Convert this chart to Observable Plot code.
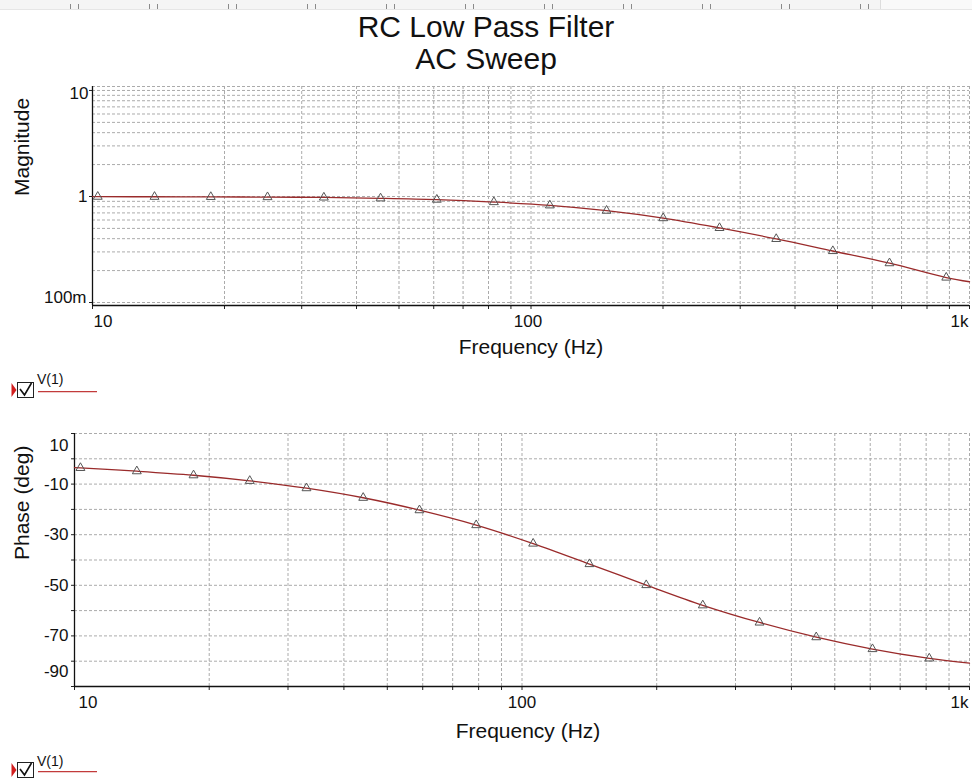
<!DOCTYPE html>
<html><head><meta charset="utf-8">
<script src="https://cdn.jsdelivr.net/npm/d3@7"></script>
<script src="https://cdn.jsdelivr.net/npm/@observablehq/plot@0.6"></script>
<style>
body{margin:0;background:#fff;font-family:"Liberation Sans",Arial,sans-serif;}
#root{position:relative;width:972px;height:780px;overflow:hidden;background:#fff;}
#ruler{position:absolute;left:0;top:0;width:972px;height:9px;background-color:#f5f5f5;border-bottom:1px solid #e6e6e6;}
#ruler .tk{position:absolute;top:4px;width:1px;height:5px;background:#8a8a8a;}
#rulerbox{position:absolute;left:880px;top:0;width:92px;height:9px;border-left:1px solid #ddd;background:#f9f9f9;}
.title{position:absolute;left:0;width:972px;text-align:center;font-size:30px;color:#111;line-height:1;}
#p1{position:absolute;left:0;top:70px;}
#p2{position:absolute;left:0;top:416px;}
.legend{position:absolute;left:0;width:110px;height:30px;}
.legend .lab{position:absolute;left:37px;font-size:14px;color:#111;line-height:1;}
</style></head><body><div id="root">
<div id="ruler"></div>
<div id="rulerbox"></div>
<div class="title" style="top:12px">RC Low Pass Filter</div>
<div class="title" style="top:44px">AC Sweep</div>
<div id="p1"></div>
<div id="p2"></div>
<div class="legend" style="top:370px">
 <svg width="110" height="30" style="position:absolute;left:0;top:0">
  <polygon points="11.5,13 16.5,20 11.5,27" fill="#d21f1f"/>
  <rect x="17.5" y="12.5" width="16" height="15" fill="#fff" stroke="#222" stroke-width="1"/>
  <polyline points="20,19 24.5,25 31.5,13" fill="none" stroke="#111" stroke-width="1.6"/>
  <line x1="38" y1="21.7" x2="97" y2="21.7" stroke="#c23b3b" stroke-width="1.3"/>
 </svg>
 <div class="lab" style="top:2px">V(1)</div>
</div>
<div class="legend" style="top:750px">
 <svg width="110" height="30" style="position:absolute;left:0;top:0">
  <polygon points="11.5,13 16.5,20 11.5,27" fill="#d21f1f"/>
  <rect x="17.5" y="12.5" width="16" height="15" fill="#fff" stroke="#222" stroke-width="1"/>
  <polyline points="20,19 24.5,25 31.5,13" fill="none" stroke="#111" stroke-width="1.6"/>
  <line x1="38" y1="21.7" x2="97" y2="21.7" stroke="#c23b3b" stroke-width="1.3"/>
 </svg>
 <div class="lab" style="top:4px">V(1)</div>
</div>
</div>
<script>
// ---- data ----
const freqGrid = [10,20,30,40,50,60,70,80,90,100,200,300,400,500,600,700,800,900,1000];
const magGrid = [0.1,0.2,0.3,0.4,0.5,0.6,0.7,0.8,0.9,1,2,3,4,5,6,7,8,9,10];
const phaseGrid = [10,0,-10,-20,-30,-40,-50,-60,-70,-80,-90];
const magTicks = [10, 1, 0.1];
const magTickLabels = ["10", "1", "100m"];
const phaseTicks = [10, -10, -30, -50, -70, -90];
const freqTicks = [10, 100, 1000];
const freqTickLabels = ["10", "100", "1k"];

// magnitude trace V(1)
const magFreq  = [10, 10.28, 13.85, 18.61, 25.07, 33.70, 45.38, 60.99, 82.29, 110.4, 148.7, 200.2, 269.1, 362.4, 487.9, 657, 885, 1000];
const magValue = [0.998, 0.996, 0.994, 0.991, 0.987, 0.979, 0.961, 0.934, 0.886, 0.825, 0.735, 0.625, 0.505, 0.398, 0.306, 0.235, 0.172, 0.157];
const magMarked = [false,true,true,true,true,true,true,true,true,true,true,true,true,true,true,true,true,false];

// phase trace P(V(1))
const phaseFreq  = [10, 10.31, 13.78, 18.45, 24.64, 32.99, 44.17, 59.0, 79.0, 105.9, 141.5, 189.5, 253.5, 339.5, 454.5, 607, 813, 1000];
const phaseValue = [-3.5, -3.6, -4.9, -6.5, -8.7, -11.6, -15.4, -20.3, -26.2, -33.5, -41.6, -49.9, -57.9, -64.7, -70.5, -75.2, -78.9, -80.8];
const phaseMarked = [false,true,true,true,true,true,true,true,true,true,true,true,true,true,true,true,true,false];

// decorative toolbar ruler at the top of the window (tick pairs)
(function(){
  const r = document.getElementById("ruler");
  for (let x = 70; x < 880; x += 79) {
    for (const o of [0, 8]) {
      const t = document.createElement("div");
      t.className = "tk"; t.style.left = (x + o) + "px";
      r.appendChild(t);
    }
  }
})();

const magData = magFreq.map((f,i)=>({f, v: magValue[i], m: magMarked[i]}));
const phaseData = phaseFreq.map((f,i)=>({f, v: phaseValue[i], m: phaseMarked[i]}));

const FONT = '"Liberation Sans", Arial, sans-serif';
const gridStyle = {stroke:"#ababab", strokeOpacity:1, strokeWidth:1, strokeDasharray:"3,2"};
const traceColor = "#9a2b2b";
const tickFont = 17, labelFont = 21;

const magMin = 0.0937, magMax = 10.9;

const p1 = Plot.plot({
  width:972, height:300, marginLeft:92, marginRight:3, marginTop:16, marginBottom:65,
  style:{fontFamily:FONT, fontSize:tickFont+"px", background:"transparent", color:"#111", overflow:"visible"},
  x:{type:"log", domain:[10,1000], axis:null},
  y:{type:"log", domain:[magMin, magMax], axis:null},
  marks:[
    Plot.ruleX(freqGrid, {x:d=>d, ...gridStyle}),
    Plot.ruleY(magGrid, {y:d=>d, ...gridStyle}),
    Plot.ruleY([magMax], {y:d=>d, ...gridStyle}),
    Plot.axisX({ticks:freqGrid, tickSize:4, tickFormat:()=>"", stroke:"#222", label:null}),
    Plot.axisY({ticks:magTicks, tickSize:3, tickFormat:()=>"", stroke:"#222", label:null}),
    Plot.ruleX([10], {x:d=>d, stroke:"#111", strokeWidth:1.3}),
    Plot.ruleY([magMin], {y:d=>d, stroke:"#111", strokeWidth:1.3}),
    Plot.line(magData, {x:"f", y:"v", stroke:traceColor, strokeWidth:1.3, curve:"catmull-rom"}),
    Plot.dot(magData.filter(d=>d.m), {x:"f", y:"v", symbol:"triangle", r:3.3, stroke:"#555", strokeWidth:1, fill:"none"}),
    // y tick labels
    Plot.text([magTicks[0]], {y:d=>d, frameAnchor:"left", dx:-4, dy:3, textAnchor:"end", text:[magTickLabels[0]], fontSize:tickFont}),
    Plot.text([magTicks[1]], {y:d=>d, frameAnchor:"left", dx:-5, dy:0, textAnchor:"end", text:[magTickLabels[1]], fontSize:tickFont}),
    Plot.text([magTicks[2]], {y:d=>d, frameAnchor:"left", dx:-6, dy:-5, textAnchor:"end", text:[magTickLabels[2]], fontSize:tickFont}),
    // x tick labels
    Plot.text([freqTicks[0]], {x:d=>d, frameAnchor:"bottom", dx:1, dy:21, textAnchor:"start", text:[freqTickLabels[0]], fontSize:tickFont}),
    Plot.text([freqTicks[1]], {x:d=>d, frameAnchor:"bottom", dx:-3, dy:21, textAnchor:"middle", text:[freqTickLabels[1]], fontSize:tickFont}),
    Plot.text([freqTicks[2]], {x:d=>d, frameAnchor:"bottom", dx:-1, dy:21, textAnchor:"end", text:[freqTickLabels[2]], fontSize:tickFont}),
    // axis titles
    Plot.text(["Frequency (Hz)"], {frameAnchor:"bottom", dy:48, text:d=>d, fontSize:labelFont}),
    Plot.text(["Magnitude"], {frameAnchor:"left", dx:-70, rotate:-90, text:d=>d, fontSize:labelFont})
  ]
});
document.getElementById("p1").appendChild(p1);

const p2 = Plot.plot({
  width:972, height:340, marginLeft:74, marginRight:3, marginTop:17, marginBottom:70,
  style:{fontFamily:FONT, fontSize:tickFont+"px", background:"transparent", color:"#111", overflow:"visible"},
  x:{type:"log", domain:[10,1000], axis:null},
  y:{type:"linear", domain:[-90, 10], axis:null},
  marks:[
    Plot.ruleX(freqGrid, {x:d=>d, ...gridStyle}),
    Plot.ruleY(phaseGrid, {y:d=>d, ...gridStyle}),
    Plot.axisX({ticks:freqGrid, tickSize:4, tickFormat:()=>"", stroke:"#222", label:null}),
    Plot.axisY({ticks:phaseGrid, tickSize:3, tickFormat:()=>"", stroke:"#222", label:null}),
    Plot.ruleX([10], {x:d=>d, stroke:"#111", strokeWidth:1.3}),
    Plot.ruleY([-90], {y:d=>d, stroke:"#111", strokeWidth:1.3}),
    Plot.line(phaseData, {x:"f", y:"v", stroke:traceColor, strokeWidth:1.3, curve:"catmull-rom"}),
    Plot.dot(phaseData.filter(d=>d.m), {x:"f", y:"v", symbol:"triangle", r:3.3, stroke:"#555", strokeWidth:1, fill:"none"}),
    // y tick labels
    Plot.text([phaseTicks[0]], {y:d=>d, frameAnchor:"left", dx:-6, dy:12, textAnchor:"end", text:d=>String(d), fontSize:tickFont}),
    Plot.text(phaseTicks.slice(1,5), {y:d=>d, frameAnchor:"left", dx:-6, textAnchor:"end", text:d=>String(d), fontSize:tickFont}),
    Plot.text([phaseTicks[5]], {y:d=>d, frameAnchor:"left", dx:-6, dy:-15, textAnchor:"end", text:d=>String(d), fontSize:tickFont}),
    // x tick labels
    Plot.text([freqTicks[0]], {x:d=>d, frameAnchor:"bottom", dx:4, dy:21, textAnchor:"start", text:[freqTickLabels[0]], fontSize:tickFont}),
    Plot.text([freqTicks[1]], {x:d=>d, frameAnchor:"bottom", dx:0, dy:21, textAnchor:"middle", text:[freqTickLabels[1]], fontSize:tickFont}),
    Plot.text([freqTicks[2]], {x:d=>d, frameAnchor:"bottom", dx:-1, dy:21, textAnchor:"end", text:[freqTickLabels[2]], fontSize:tickFont}),
    // axis titles
    Plot.text(["Frequency (Hz)"], {frameAnchor:"bottom", dx:6, dy:51, text:d=>d, fontSize:labelFont}),
    Plot.text(["Phase (deg)"], {frameAnchor:"left", dx:-52, rotate:-90, text:d=>d, fontSize:labelFont})
  ]
});
document.getElementById("p2").appendChild(p2);
</script>
</body></html>
